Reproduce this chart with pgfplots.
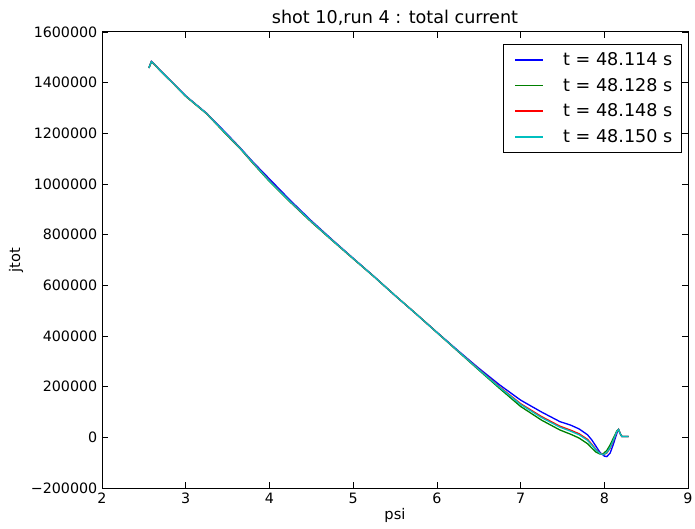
\documentclass[border=0pt]{standalone}
\usepackage{pgfplots}
\pgfplotsset{compat=1.18}
\usepackage{pgfplotstable}
\usepackage{fontspec}
\setmainfont{DejaVu Sans}
\definecolor{mplb}{rgb}{0,0,1}
\definecolor{mplg}{rgb}{0,0.5,0}
\definecolor{mplr}{rgb}{1,0,0}
\definecolor{mplc}{rgb}{0,0.75,0.75}
\pgfplotstableread{
x y
2.56 1458000
2.59 1484000
2.63 1472000
2.70 1447000
2.85 1398000
3.00 1348000
3.25 1279000
3.50 1195000
3.65 1143000
3.80 1088000
4.00 1020000
4.25 935000
4.50 855000
4.75 780000
5.00 707000
5.25 635000
5.50 560000
5.75 488000
6.00 415000
6.25 343000
6.50 273000
6.75 207000
7.00 147000
7.25 100000
7.47 62000
7.60 48000
7.70 33000
7.80 10000
7.85 -10000
7.90 -35000
7.95 -60000
8.00 -74000
8.03 -76000
8.07 -62000
8.10 -35000
8.13 -5000
8.16 25000
8.17 31000
8.19 15000
8.21 3000
8.29 3000
}\tblue
\pgfplotstableread{
x y
2.56 1458000
2.59 1482000
2.63 1470000
2.70 1446000
2.85 1397000
3.00 1346000
3.25 1277000
3.50 1190000
3.65 1140000
3.80 1083000
4.00 1010000
4.25 928000
4.50 850000
4.75 777000
5.00 705000
5.25 634000
5.50 560000
5.75 488000
6.00 414000
6.25 340000
6.50 266000
6.75 193000
7.00 122000
7.25 68000
7.47 29000
7.60 12000
7.70 -3000
7.80 -25000
7.85 -42000
7.90 -58000
7.95 -66000
7.99 -64000
8.03 -52000
8.07 -30000
8.11 -2000
8.15 25000
8.17 31000
8.19 15000
8.21 3000
8.29 3000
}\tgreen
\pgfplotstableread{
x y
2.56 1458000
2.59 1483000
2.63 1471000
2.70 1446000
2.85 1397000
3.00 1347000
3.25 1278000
3.50 1192000
3.65 1141000
3.80 1085000
4.00 1013000
4.25 930000
4.50 852000
4.75 778000
5.00 706000
5.25 634000
5.50 560000
5.75 488000
6.00 414000
6.25 341000
6.50 269000
6.75 199000
7.00 133000
7.25 82000
7.47 44000
7.60 28000
7.70 14000
7.80 -8000
7.85 -27000
7.90 -48000
7.95 -63000
7.99 -68000
8.03 -62000
8.07 -42000
8.11 -12000
8.15 22000
8.17 31000
8.19 15000
8.21 3000
8.29 3000
}\tred
\pgfplotstableread{
x y
2.56 1458000
2.59 1483000
2.63 1471000
2.70 1446000
2.85 1397000
3.00 1347000
3.25 1278000
3.50 1192000
3.65 1141000
3.80 1085000
4.00 1012000
4.25 930000
4.50 852000
4.75 778000
5.00 706000
5.25 634000
5.50 560000
5.75 488000
6.00 414000
6.25 341000
6.50 268000
6.75 197000
7.00 130000
7.25 78000
7.47 40000
7.60 24000
7.70 10000
7.80 -12000
7.85 -30000
7.90 -50000
7.95 -64000
7.99 -68000
8.03 -60000
8.07 -40000
8.11 -10000
8.15 23000
8.17 31000
8.19 15000
8.21 3000
8.29 3000
}\tcyan
\begin{document}
\begin{tikzpicture}
\path[use as bounding box] (-76.5pt,-30pt) rectangle (444.75pt,366pt);
\begin{axis}[
  at={(0,0)}, anchor=south west,
  scale only axis, width=439.5pt, height=342pt,
  xmin=2, xmax=9, ymin=-200000, ymax=1600000,
  xtick={2,...,9},
  ytick={-200000,0,200000,400000,600000,800000,1000000,1200000,1400000,1600000},
  yticklabels={−200000,0,200000,400000,600000,800000,1000000,1200000,1400000,1600000},
  scaled y ticks=false,
  /pgf/number format/assume math mode=true,
  tick align=inside, major tick length=4.5pt,
  tick style={black, line width=0.5pt},
  ticks=major,
  tick label style={font=\fontsize{10.7}{12}\selectfont},
  axis line style={black, line width=0.75pt},
  title={shot 10,run 4 : total current},
  title style={font=\fontsize{13.2}{15}\selectfont, yshift=-5pt},
  xlabel={psi}, ylabel={jtot},
  label style={font=\fontsize{11}{13}\selectfont},
  xlabel style={yshift=3pt},
  ylabel style={yshift=-1pt},
  legend style={at={(1,1)}, anchor=north east, xshift=-4.5pt, yshift=-9pt,
    font=\fontsize{13.2}{15}\selectfont,
    row sep=4pt, inner xsep=5pt, inner ysep=4pt},
  legend cell align=left,
  legend image code/.code={%
    \path (-3pt,0pt) (34pt,0pt);
    \fill[#1, draw=none] (0pt,-0.6pt) rectangle (21pt,0.6pt);},
  every axis plot/.append style={line width=1pt},
]
\addplot[color=mplb] table {\tblue};
\addplot[color=mplg] table {\tgreen};
\addplot[color=mplr] table {\tred};
\addplot[color=mplc] table {\tcyan};
\legend{t = 48.114 s, t = 48.128 s, t = 48.148 s, t = 48.150 s}
\end{axis}
\end{tikzpicture}
\end{document}
